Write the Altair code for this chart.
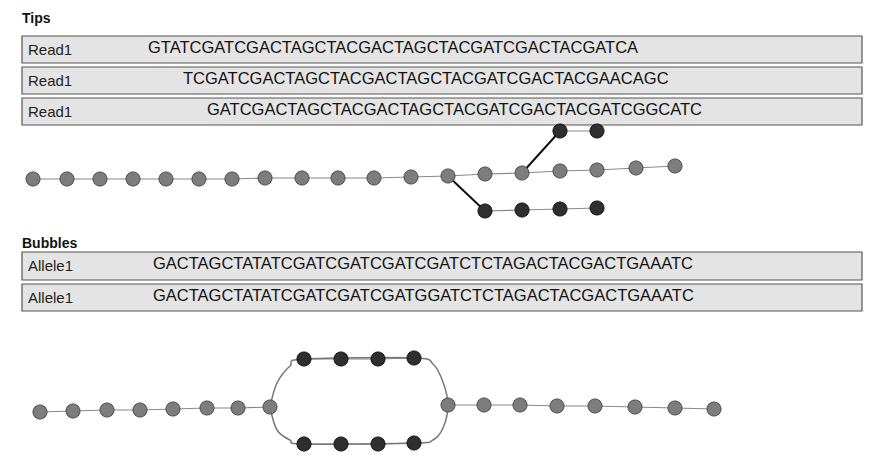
import altair as alt
import pandas as pd

# pixel-space data taken off the figure
tips_labels = ["Read1", "Read1", "Read1"]
tips_seqs = [
    "GTATCGATCGACTAGCTACGACTAGCTACGATCGACTACGATCA",
    "TCGATCGACTAGCTACGACTAGCTACGATCGACTACGAACAGC",
    "GATCGACTAGCTACGACTAGCTACGATCGACTACGATCGGCATC",
]
tips_seq_x = [148, 183, 207]
tips_row_top = [36, 67, 98]
tips_row_bottom = [63, 94, 125]

bub_labels = ["Allele1", "Allele1"]
bub_seqs = [
    "GACTAGCTATATCGATCGATCGATCGATCTCTAGACTACGACTGAAATC",
    "GACTAGCTATATCGATCGATCGATGGATCTCTAGACTACGACTGAAATC",
]
bub_seq_x = [153, 153]
bub_row_top = [252, 284]
bub_row_bottom = [280, 311]

# tips graph
main_x = [33, 67, 100, 133, 166, 199, 232, 265, 302, 338, 374, 411, 448, 485, 522, 560, 597, 636, 675]
main_y = [179, 179, 179, 179, 179, 179, 179, 178, 178, 178, 178, 177, 176, 174, 173, 171, 170, 168, 166]
up_x = [560, 597]
up_y = [131, 131]
low_x = [485, 522, 560, 597]
low_y = [211, 210, 209, 208]
link_x = [448, 485, 522, 560]
link_y = [176, 211, 173, 131]
link_grp = ["a", "a", "b", "b"]

# bubble graph
left_x = [40, 73, 107, 140, 173, 207, 238, 270]
left_y = [412, 411, 410, 410, 409, 408, 408, 407]
right_x = [448, 484, 520, 557, 595, 635, 675, 714]
right_y = [405, 405, 405, 406, 406, 407, 408, 409]
top_x = [304, 341, 378, 414]
top_y = [359, 359, 359, 358]
bot_x = [304, 341, 378, 414]
bot_y = [444, 444, 444, 443]
loop_x = [270, 277, 290, 304, 414, 433, 443, 448, 443, 433, 414, 304, 290, 277, 270]
loop_y = [407, 383, 366, 359, 358, 364, 382, 405, 428, 440, 443, 444, 440, 430, 407]

X = alt.Scale(domain=[8, 864], nice=False, zero=False)
Y = alt.Scale(domain=[8, 456], nice=False, zero=False, reverse=True)


def xe(f="x"):
    return alt.X(f"{f}:Q", scale=X, axis=None)


def ye(f="y"):
    return alt.Y(f"{f}:Q", scale=Y, axis=None)


rows = pd.DataFrame({
    "x": [22] * 5,
    "x2": [862] * 5,
    "y": tips_row_top + bub_row_top,
    "y2": tips_row_bottom + bub_row_bottom,
})
boxes = alt.Chart(rows).mark_rect(fill="#e4e4e4", stroke="#555", strokeWidth=1.2).encode(
    x=xe(), x2="x2:Q", y=ye(), y2="y2:Q")

mids = [(a + b) / 2 for a, b in zip(tips_row_top + bub_row_top, tips_row_bottom + bub_row_bottom)]
lab = pd.DataFrame({"x": [28] * 5, "y": mids, "t": tips_labels + bub_labels})
labels = alt.Chart(lab).mark_text(align="left", baseline="middle", fontSize=15,
                                  font="Liberation Sans", color="#222").encode(
    x=xe(), y=ye(), text="t:N")

sq = pd.DataFrame({"x": tips_seq_x + bub_seq_x, "y": [m - 2 for m in mids], "t": tips_seqs + bub_seqs})
seqs = alt.Chart(sq).mark_text(align="left", baseline="middle", fontSize=16.5,
                               font="Liberation Sans", color="#111").encode(
    x=xe(), y=ye(), text="t:N")

heads = alt.Chart(pd.DataFrame({"x": [22, 22], "y": [19, 244], "t": ["Tips", "Bubbles"]})).mark_text(
    align="left", baseline="middle", fontSize=14, fontWeight="bold",
    font="Liberation Sans", color="#111").encode(x=xe(), y=ye(), text="t:N")


def chain(xs, ys, name):
    return pd.DataFrame({"x": xs, "y": ys, "g": name, "o": range(len(xs))})


chains = pd.concat([
    chain(main_x, main_y, "m"), chain(up_x, up_y, "u"), chain(low_x, low_y, "l"),
    chain(left_x, left_y, "bl"), chain(right_x, right_y, "br"),
    chain(top_x, top_y, "t"), chain(bot_x, bot_y, "b"),
])
thin = alt.Chart(chains).mark_line(color="#888", strokeWidth=1.2).encode(
    x=xe(), y=ye(), detail="g:N", order="o:Q")

links = alt.Chart(pd.DataFrame({"x": link_x, "y": link_y, "g": link_grp})).mark_line(
    color="#111", strokeWidth=2).encode(x=xe(), y=ye(), detail="g:N")

loop = alt.Chart(pd.DataFrame({"x": loop_x, "y": loop_y, "o": range(len(loop_x))})).mark_line(
    color="#777", strokeWidth=1.5, interpolate="cardinal").encode(x=xe(), y=ye(), order="o:Q")

light = pd.DataFrame({"x": main_x + left_x + right_x, "y": main_y + left_y + right_y})
dark = pd.DataFrame({"x": up_x + low_x + top_x + bot_x, "y": up_y + low_y + top_y + bot_y})
light_nodes = alt.Chart(light).mark_circle(size=200, opacity=1, color="#7d7d7d",
                                           stroke="#4a4a4a", strokeWidth=1).encode(x=xe(), y=ye())
dark_nodes = alt.Chart(dark).mark_circle(size=200, opacity=1, color="#2f2f2f",
                                         stroke="#111", strokeWidth=1).encode(x=xe(), y=ye())

chart = alt.layer(boxes, labels, seqs, heads, thin, links, loop, light_nodes, dark_nodes).properties(
    width=856, height=448, padding=0, background="white"
).configure_view(stroke=None)

chart.save("out.html", embed_options={"renderer": "svg", "actions": False})
